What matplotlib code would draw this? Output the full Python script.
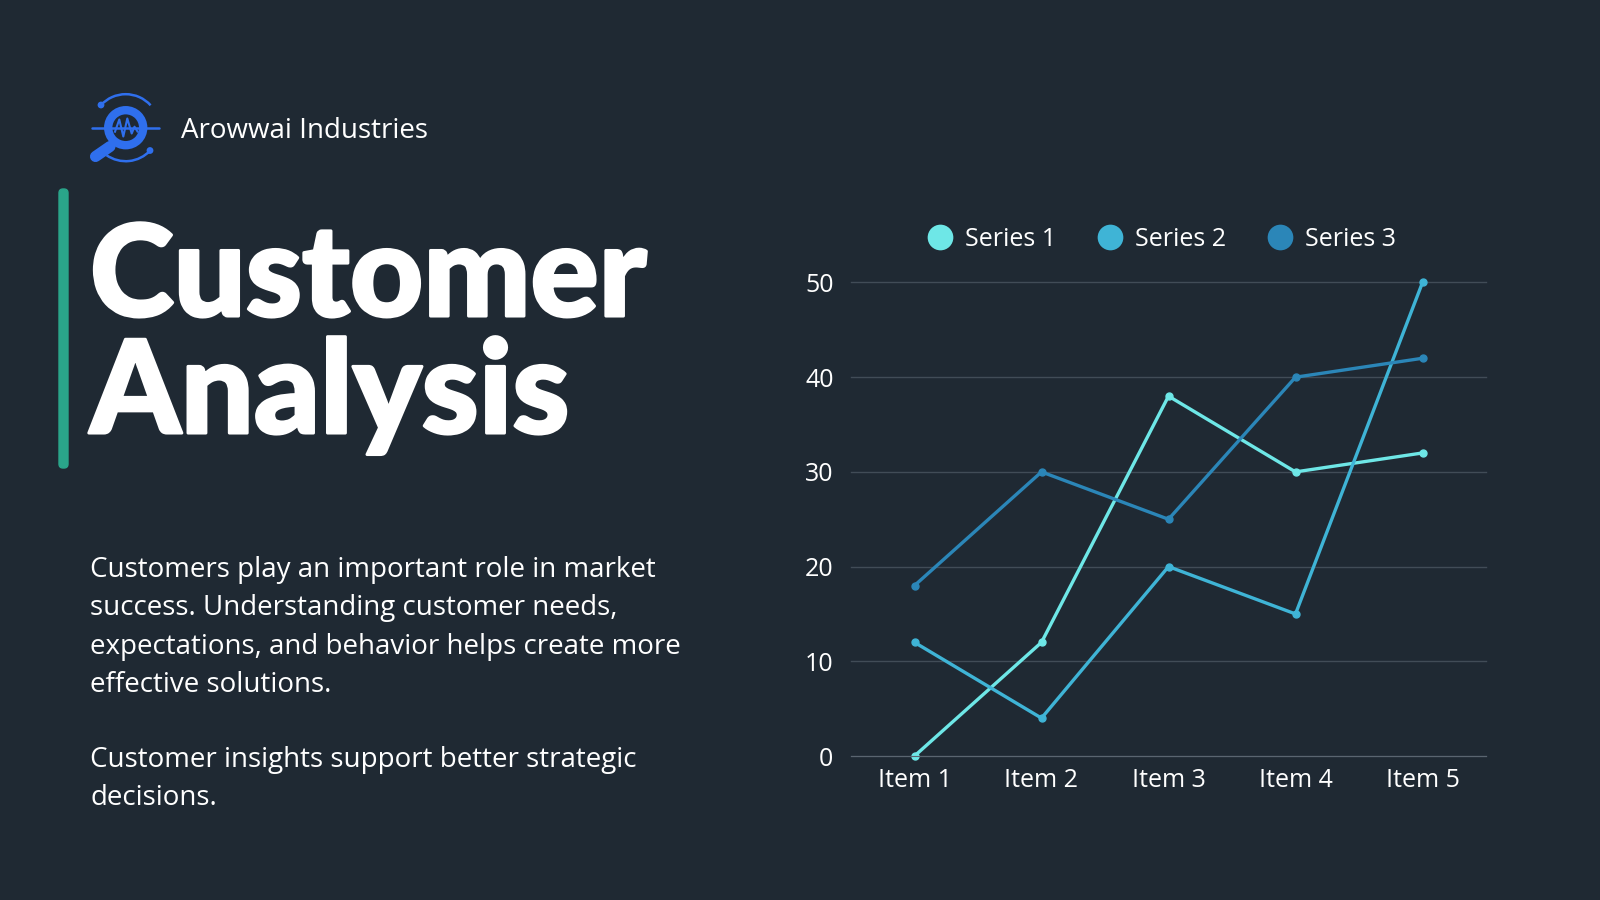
import numpy as np
import matplotlib.pyplot as plt
import matplotlib.patheffects as pe
from matplotlib.lines import Line2D
from matplotlib.patches import Arc, Circle, FancyBboxPatch

items = ["Item 1", "Item 2", "Item 3", "Item 4", "Item 5"]
series_1 = [0, 12, 38, 30, 32]
series_2 = [12, 4, 20, 15, 50]
series_3 = [18, 30, 25, 40, 42]
series_names = ["Series 1", "Series 2", "Series 3"]
y_ticks = [0, 10, 20, 30, 40, 50]

BG = "#1f2933"
WHITE = "#ffffff"
BLUE = "#2f6fed"
COLORS = ["#6ee7e7", "#3fb4d6", "#2b86b8"]
W, H = 1600, 900

plt.rcParams["font.family"] = ["Open Sans", "DejaVu Sans"]

fig = plt.figure(figsize=(16, 9), dpi=100, facecolor=BG)

# Full page layer in pixel coordinates for the slide parts
page = fig.add_axes([0, 0, 1, 1])
page.set_xlim(0, W)
page.set_ylim(H, 0)
page.axis("off")

# Accent bar
page.add_patch(FancyBboxPatch((59, 189), 9, 279, boxstyle="round,pad=0,rounding_size=4",
                              fc="#2aa58a", ec="#2aa58a", lw=1))

# Logo
cx, cy = 125.7, 127.7
page.plot([92, 159], [cy, cy], color=BLUE, lw=1.8, solid_capstyle="round")
page.add_patch(Circle((cx, cy), 17.5, fc=BG, ec=BLUE, lw=6))
page.plot([110, 95.5], [146.5, 156.5], color=BLUE, lw=8, solid_capstyle="round")
page.add_patch(Arc((cx, cy), 67, 67, theta1=222, theta2=318, color=BLUE, lw=1.8))
page.add_patch(Arc((cx, cy), 67, 67, theta1=43, theta2=125, color=BLUE, lw=1.8))
page.add_patch(Circle((101, 105), 3.4, fc=BLUE, ec="none"))
page.add_patch(Circle((150, 150.5), 3.4, fc=BLUE, ec="none"))
page.plot([115, 119.3, 123.3, 127.3, 131.7, 134.5, 137.5],
          [131.7, 119.5, 136.5, 118.5, 133.5, 126.7, 131.5], color=BLUE, lw=1.5)

page.text(181, 138, "Arowwai Industries", color=WHITE, fontsize=20, va="baseline")

# Title, stroked a bit since Lato is lighter than the original face
bold = [pe.withStroke(linewidth=2.2, foreground=WHITE)]
page.text(90, 316, "Customer", color=WHITE, fontsize=91.5, family="Lato",
          weight="black", va="baseline", path_effects=bold)
page.text(90, 433, "Analysis", color=WHITE, fontsize=93, family="Lato",
          weight="black", va="baseline", path_effects=bold)

# Body text
body_lines = [
    (577, "Customers play an important role in market"),
    (615, "success. Understanding customer needs,"),
    (654, "expectations, and behavior helps create more"),
    (692, "effective solutions."),
    (767, "Customer insights support better strategic"),
    (805, "decisions."),
]
for y, line in body_lines:
    page.text(90, y, line, color=WHITE, fontsize=20, va="baseline")

# Line chart
ax = fig.add_axes([851 / W, 1 - 756 / H, 635 / W, 473.5 / H], facecolor="none")
x = np.arange(len(items))
for vals, color in zip((series_1, series_2, series_3), COLORS):
    ax.plot(x, vals, color=color, lw=2.4, marker="o", ms=5, clip_on=False)

ax.set_xlim(-0.5, 4.5)
ax.set_ylim(0, 50)
ax.set_xticks(x)
ax.set_xticklabels(items)
ax.set_yticks(y_ticks)
ax.tick_params(axis="both", length=0, labelcolor=WHITE, labelsize=18)
ax.tick_params(axis="y", pad=12.6)
ax.tick_params(axis="x", pad=8.3)
ax.grid(axis="y", color="#414c57", lw=1, clip_on=False)
ax.set_axisbelow(True)
for side in ax.spines:
    ax.spines[side].set_visible(False)
ax.spines["bottom"].set_visible(True)
ax.spines["bottom"].set_color("#5a6570")

handles = [Line2D([], [], ls="none", marker="o", ms=18.5, color=c, mew=0) for c in COLORS]
ax.legend(handles, series_names, ncol=3, loc="lower center", bbox_to_anchor=(0.48, 1.012),
          frameon=False, fontsize=18, labelcolor=WHITE, handletextpad=0.0,
          columnspacing=1.15, borderaxespad=0.6)

fig.savefig("out.png", dpi=100, facecolor=BG)
